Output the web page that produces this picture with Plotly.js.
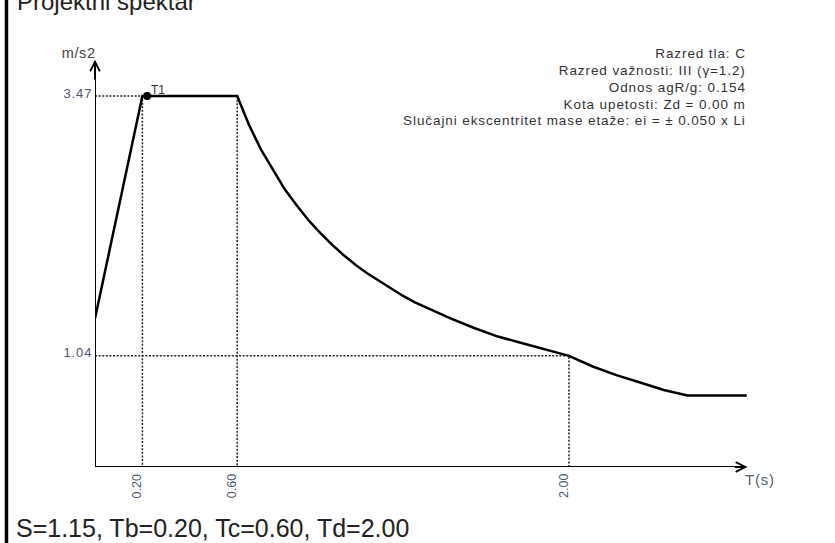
<!DOCTYPE html>
<html>
<head>
<meta charset="utf-8">
<script src="https://cdn.plot.ly/plotly-3.0.1.min.js"></script>
<style>
html, body { margin: 0; padding: 0; background: #fff; }
#chart { width: 835px; height: 543px; }
</style>
</head>
<body>
<div id="chart"></div>
<script>
// ---- data ----
var periods = [0, 0.20, 0.60, 0.65, 0.70, 0.75, 0.80, 0.85, 0.90, 0.95, 1.00, 1.05, 1.10, 1.15, 1.20, 1.25, 1.30, 1.35, 1.40, 1.45, 1.50, 1.60, 1.70, 1.80, 1.90, 2.00, 2.10, 2.20, 2.30, 2.40, 2.50, 2.75];
var spectrum = [1.39, 3.47, 3.47, 3.20, 2.97, 2.78, 2.60, 2.45, 2.31, 2.19, 2.08, 1.98, 1.89, 1.81, 1.74, 1.67, 1.60, 1.54, 1.49, 1.44, 1.39, 1.30, 1.22, 1.16, 1.10, 1.04, 0.94, 0.86, 0.79, 0.72, 0.67, 0.67];
var Tb = 0.20, Tc = 0.60, Td = 2.00;
var SdMax = 3.47, SdTd = 1.04;
var T1 = 0.22;
var xTickVals = [Tb, Tc, Td];
var xTickText = ['0.20', '0.60', '2.00'];
var yTickVals = [SdMax, SdTd];
var yTickText = ['3.47', '1.04'];
var infoLines = ['Razred tla: C', 'Razred važnosti: III (γ=1.2)', 'Odnos agR/g: 0.154', 'Kota upetosti: Zd = 0.00 m', 'Slučajni ekscentritet mase etaže: ei = ± 0.050 x Li'];
var titleText = 'Projektni spektar';
var footerText = 'S=1.15, Tb=0.20, Tc=0.60, Td=2.00';
var xAxisEnd = 2.753, yAxisEnd = 3.81;

// ---- layout geometry ----
var W = 835, H = 543;
var M = {l: 95, r: 40, t: 30, b: 76};
var pw = W - M.l - M.r, ph = H - M.t - M.b;
function px(xp) { return (xp - M.l) / pw; }
function py(yp) { return (H - M.b - yp) / ph; }

var FONT = 'Liberation Sans, Arial, sans-serif';
var tickColor = '#4a5670';
var dotStyle = {color: '#222222', width: 1.5, dash: '2px,1.6px'};

var traces = [];
// guide lines (dotted)
traces.push({x: [0, Tb, Tb], y: [SdMax, SdMax, 0], mode: 'lines', line: dotStyle, hoverinfo: 'skip'});
traces.push({x: [Tc, Tc], y: [SdMax, 0], mode: 'lines', line: dotStyle, hoverinfo: 'skip'});
traces.push({x: [0, Td, Td], y: [SdTd, SdTd, 0], mode: 'lines', line: dotStyle, hoverinfo: 'skip'});
// spectrum
traces.push({x: periods, y: spectrum, mode: 'lines', line: {color: '#000', width: 2.5}, hoverinfo: 'skip'});
// T1 point
traces.push({x: [T1], y: [SdMax], mode: 'markers', marker: {color: '#000', size: 8}, hoverinfo: 'skip'});

var annotations = [];
var spacing = {};   // annotation index -> letter-spacing (px)
function addAnn(a, ls) { annotations.push(a); if (ls) spacing[annotations.length - 1] = ls; }

// axis arrow heads
addAnn({x: xAxisEnd, y: 0, ax: xAxisEnd - 0.06, ay: 0, xref: 'x', yref: 'y', axref: 'x', ayref: 'y',
  text: '', showarrow: true, arrowhead: 5, arrowsize: 0.95, arrowwidth: 2, arrowcolor: '#000', standoff: 0});
addAnn({x: 0, y: yAxisEnd, ax: 0, ay: yAxisEnd - 0.2, xref: 'x', yref: 'y', axref: 'x', ayref: 'y',
  text: '', showarrow: true, arrowhead: 5, arrowsize: 0.95, arrowwidth: 2, arrowcolor: '#000', standoff: 0});
// x tick labels (rotated)
xTickVals.forEach(function (v, i) {
  addAnn({x: v, y: 0, xref: 'x', yref: 'y', text: xTickText[i], showarrow: false, textangle: -90,
    xanchor: 'center', yanchor: 'top', xshift: -5, yshift: -5, font: {family: FONT, size: 12.5, color: tickColor}});
});
// y tick labels
yTickVals.forEach(function (v, i) {
  addAnn({x: 0, y: v, xref: 'x', yref: 'y', text: yTickText[i], showarrow: false, align: 'right',
    xanchor: 'right', yanchor: 'middle', xshift: -1.5, yshift: 3, font: {family: FONT, size: 13, color: tickColor}}, 0.9);
});
// axis labels
addAnn({x: 0, y: yAxisEnd, xref: 'x', yref: 'y', text: 'm/s2', showarrow: false, xanchor: 'center', yanchor: 'middle',
  xshift: -17, yshift: 7, font: {family: FONT, size: 14.5, color: '#444'}}, 0.6);
addAnn({x: xAxisEnd, y: 0, xref: 'x', yref: 'y', text: 'T(s)', showarrow: false, xanchor: 'left', yanchor: 'middle', align: 'left',
  xshift: -4, yshift: -12, font: {family: FONT, size: 15, color: '#556070'}}, 0.8);
// T1 label
addAnn({x: T1, y: SdMax, xref: 'x', yref: 'y', text: 'T1', showarrow: false, xanchor: 'center', yanchor: 'middle',
  xshift: 11, yshift: 6, font: {family: FONT, size: 12, color: '#333'}});
// info block (one annotation per line)
var infoY = [53.3, 70, 87.3, 104, 120.7];
infoLines.forEach(function (t, i) {
  addAnn({x: px(748), y: py(infoY[i]), xref: 'paper', yref: 'paper', text: t, showarrow: false,
    xanchor: 'right', yanchor: 'middle', align: 'right', font: {family: FONT, size: 13.5, color: '#333'}}, 0.9);
});
// title (cut off at top) and footer
addAnn({x: px(15), y: py(1), xref: 'paper', yref: 'paper', text: titleText, showarrow: false,
  xanchor: 'left', yanchor: 'middle', align: 'left', font: {family: FONT, size: 24, color: '#222'}});
addAnn({x: px(14), y: py(528.3), xref: 'paper', yref: 'paper', text: footerText, showarrow: false,
  xanchor: 'left', yanchor: 'middle', align: 'left', font: {family: FONT, size: 25, color: '#222'}});

var shapes = [
  // axis lines
  {type: 'line', xref: 'x', yref: 'y', x0: 0, y0: 0, x1: xAxisEnd - 0.01, y1: 0, line: {color: '#000', width: 2}},
  {type: 'line', xref: 'x', yref: 'y', x0: 0, y0: 0, x1: 0, y1: yAxisEnd - 0.03, line: {color: '#000', width: 2}},
  // left frame border
  {type: 'line', xref: 'paper', yref: 'paper', x0: px(6.5), x1: px(6.5), y0: py(H + 2), y1: py(-2), line: {color: '#000', width: 3.5}}
];

var layout = {
  width: W, height: H,
  margin: M,
  paper_bgcolor: '#fff', plot_bgcolor: '#fff',
  showlegend: false,
  xaxis: {range: [0, pw / 237], visible: false, fixedrange: true},
  yaxis: {range: [0, ph / 106.9], visible: false, fixedrange: true},
  annotations: annotations,
  shapes: shapes
};

Plotly.newPlot('chart', traces, layout, {staticPlot: true, displayModeBar: false}).then(function (gd) {
  Object.keys(spacing).forEach(function (k) {
    var g = gd.querySelector('g.annotation[data-index="' + k + '"] text.annotation-text');
    if (g) g.style.letterSpacing = spacing[k] + 'px';
  });
});
</script>
</body>
</html>
